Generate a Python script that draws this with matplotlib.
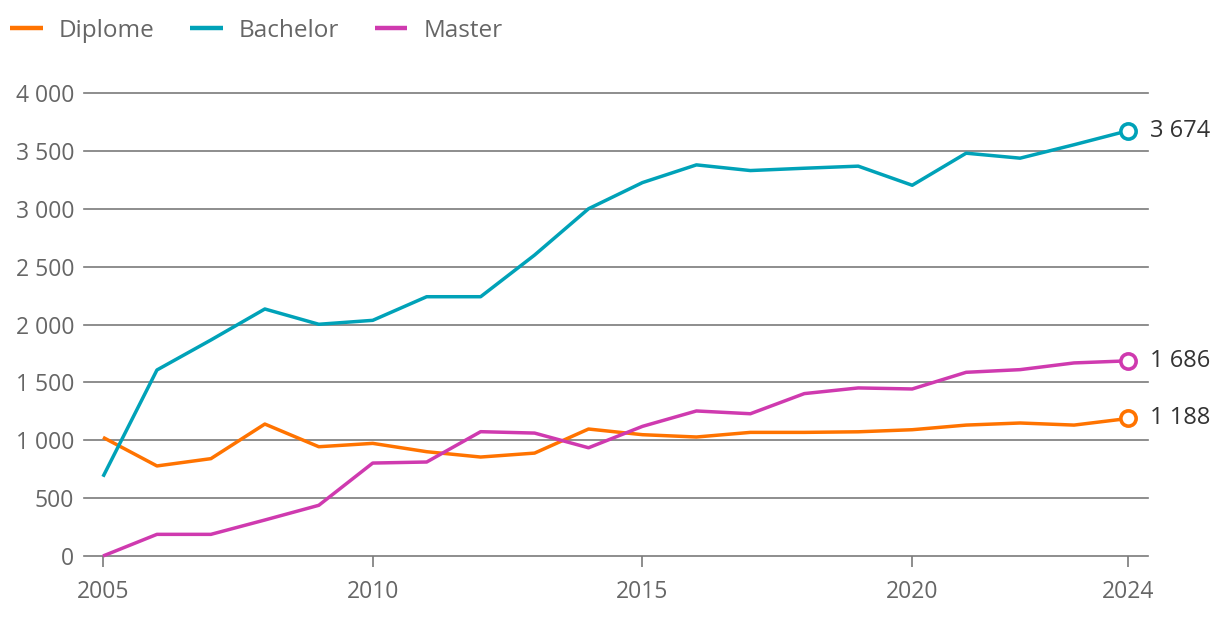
import matplotlib
matplotlib.use("Agg")
import matplotlib.pyplot as plt

plt.rcParams['font.family'] = ['Open Sans', 'DejaVu Sans']

years = list(range(2005, 2025))
diplome = [1025, 778, 841, 1140, 944, 973, 901, 855, 889, 1097, 1048, 1028, 1068, 1068, 1073, 1091, 1131, 1149, 1131, 1188]
bachelor = [685, 1607, 1866, 2134, 2002, 2036, 2240, 2240, 2600, 3000, 3226, 3379, 3330, 3350, 3368, 3203, 3480, 3437, 3553, 3674]
master = [0, 187, 187, 311, 438, 803, 812, 1074, 1062, 935, 1120, 1253, 1229, 1403, 1452, 1443, 1587, 1610, 1668, 1686]

series = [("Diplome", diplome, "#ff7300"), ("Bachelor", bachelor, "#00a2b8"), ("Master", master, "#cf3aaf")]
yticks = [0, 500, 1000, 1500, 2000, 2500, 3000, 3500, 4000]
xticks = [2005, 2010, 2015, 2020, 2024]

fig = plt.figure(figsize=(12.2, 6.24), dpi=100)
ax = fig.add_axes([84/1220, (624-556)/624, (1148-84)/1220, (556-93)/624])

for name, vals, col in series:
    ax.plot(years, vals, color=col, lw=2.5, label=name, solid_capstyle='butt', zorder=3, clip_on=False)
    ax.plot([years[-1]], [vals[-1]], 'o', ms=11, mfc='white', mec=col, mew=2.6, zorder=4, clip_on=False)
    ax.annotate(f"{vals[-1]:,}".replace(",", " "), (years[-1], vals[-1]), xytext=(15.5, 0),
                textcoords='offset points', va='center', ha='left', fontsize=17, color='#333333')

ax.set_xlim(2005 - 19/53.95, 2024 + 20/53.95)
ax.set_ylim(0, 4000)
ax.set_yticks(yticks)
ax.set_yticklabels([f"{v:,}".replace(",", " ") for v in yticks])
ax.set_xticks(xticks)
ax.set_xticklabels([str(x) for x in xticks])
for s in ax.spines.values():
    s.set_visible(False)
ax.grid(axis='y', color='#7a7a7a', lw=1.2, zorder=1)
ax.grid(axis='x', visible=False)
ax.tick_params(axis='y', length=0, pad=7, labelsize=16.5, labelcolor='#666666')
ax.tick_params(axis='x', length=8, width=1.2, color='#7a7a7a', pad=9, labelsize=16.5, labelcolor='#666666')
for gl in ax.get_ygridlines():
    gl.set_clip_on(False)

leg = fig.legend(loc='upper left', bbox_to_anchor=(0.0, 1.0 - 9/624), ncol=3, frameon=False,
                 fontsize=17.5, handlelength=1.35, handletextpad=0.67, columnspacing=1.45,
                 borderaxespad=0.0, borderpad=0.4)
for t in leg.get_texts():
    t.set_color('#666666')
for h in leg.get_lines():
    h.set_linewidth(3.2)

fig.savefig("out.png", dpi=100)
